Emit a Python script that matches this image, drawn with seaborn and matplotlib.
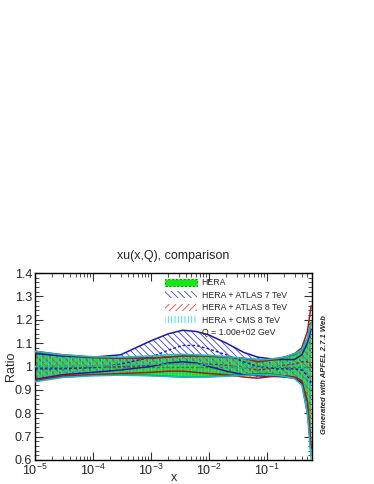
import numpy as np
import pandas as pd
import matplotlib
matplotlib.use("Agg")
import matplotlib.pyplot as plt
import seaborn as sns
from matplotlib.patches import Patch
from matplotlib.lines import Line2D
from matplotlib.ticker import MultipleLocator, LogLocator, NullFormatter

sns.set_theme(style="ticks")
plt.rcParams['font.family'] = ['Liberation Sans', 'DejaVu Sans']
plt.rcParams['hatch.linewidth'] = 0.6

x = [1e-5, 3e-5, 1e-4, 3e-4, 1e-3, 2e-3, 3.5e-3, 6e-3, 1e-2, 2e-2, 4e-2, 7e-2,
     0.1, 0.15, 0.2, 0.3, 0.4, 0.5, 0.58]

hera_c  = [1.0] * 19
hera_up = [1.06, 1.045, 1.037, 1.035, 1.038, 1.042, 1.045, 1.045, 1.043, 1.04, 1.035, 1.03,
           1.03, 1.035, 1.04, 1.05, 1.07, 1.12, 1.19]
hera_lo = [0.94, 0.955, 0.963, 0.965, 0.962, 0.958, 0.955, 0.955, 0.957, 0.96, 0.965, 0.97,
           0.97, 0.965, 0.96, 0.95, 0.93, 0.85, 0.62]

atl7_c  = [0.99, 0.99, 0.995, 1.01, 1.04, 1.07, 1.09, 1.09, 1.075, 1.05, 1.02, 1.0,
           0.995, 0.99, 0.99, 0.99, 0.985, 0.96, 0.93]
atl7_up = [1.055, 1.045, 1.04, 1.05, 1.11, 1.14, 1.155, 1.15, 1.135, 1.1, 1.06, 1.04,
           1.035, 1.03, 1.03, 1.03, 1.05, 1.1, 1.16]
atl7_lo = [0.945, 0.965, 0.975, 0.985, 1.0, 1.015, 1.02, 1.015, 1.0, 0.98, 0.965, 0.96,
           0.958, 0.957, 0.955, 0.95, 0.93, 0.8, 0.65]

atl8_c  = [1.0, 1.0, 1.0, 1.0, 1.005, 1.01, 1.01, 1.01, 1.01, 1.005, 0.995, 0.985,
           0.99, 1.0, 1.005, 1.01, 1.02, 1.02, 1.0]
atl8_up = [1.065, 1.05, 1.04, 1.035, 1.035, 1.04, 1.045, 1.045, 1.045, 1.04, 1.035, 1.02,
           1.025, 1.03, 1.04, 1.055, 1.08, 1.15, 1.26]
atl8_lo = [0.94, 0.96, 0.965, 0.97, 0.975, 0.98, 0.98, 0.975, 0.97, 0.965, 0.955, 0.95,
           0.955, 0.96, 0.96, 0.955, 0.94, 0.85, 0.66]

cms8_c  = [1.0, 1.0, 1.0, 1.005, 1.01, 1.01, 1.01, 1.01, 1.005, 1.0, 0.995, 0.995,
           0.995, 1.0, 1.0, 1.005, 1.0, 0.98, 0.9]
cms8_up = [1.065, 1.05, 1.042, 1.04, 1.045, 1.05, 1.052, 1.05, 1.048, 1.042, 1.035, 1.03,
           1.03, 1.035, 1.04, 1.055, 1.07, 1.12, 1.18]
cms8_lo = [0.935, 0.953, 0.96, 0.963, 0.96, 0.957, 0.955, 0.955, 0.955, 0.958, 0.962, 0.965,
           0.965, 0.962, 0.958, 0.948, 0.92, 0.8, 0.6]

labels = ["HERA", "HERA + ATLAS 7 TeV", "HERA + ATLAS 8 TeV", "HERA + CMS 8 TeV"]
y_ticks = [0.6, 0.7, 0.8, 0.9, 1.0, 1.1, 1.2, 1.3, 1.4]
y_tick_labels = ["0.6", "0.7", "0.8", "0.9", "1", "1.1", "1.2", "1.3", "1.4"]

sets = [
    dict(c=hera_c, up=hera_up, lo=hera_lo, fill="#19e619", line="#0f9a0f", hatch=None, hc=None),
    dict(c=atl7_c, up=atl7_up, lo=atl7_lo, fill="none", line="#1a1aa8", hatch="\\\\\\\\\\", hc="#4040ff"),
    dict(c=atl8_c, up=atl8_up, lo=atl8_lo, fill="none", line="#a81a1a", hatch="/////", hc="#ff4040"),
    dict(c=cms8_c, up=cms8_up, lo=cms8_lo, fill="none", line="#20b8c8", hatch="|||||", hc="#30d8e8"),
]

fig = plt.figure(figsize=(3.74, 4.84), dpi=100)
ax = fig.add_axes([35/374, 24/484, 277/374, 187/484])

for s in sets:
    if s["hatch"] is None:
        ax.fill_between(x, s["lo"], s["up"], facecolor=s["fill"], edgecolor="none", zorder=1)
    else:
        ax.fill_between(x, s["lo"], s["up"], facecolor="none", edgecolor=s["hc"],
                        hatch=s["hatch"], linewidth=0, zorder=2)

for s in sets:
    sns.lineplot(x=x, y=s["up"], ax=ax, color=s["line"], linewidth=1.1, zorder=3)
    sns.lineplot(x=x, y=s["lo"], ax=ax, color=s["line"], linewidth=1.1, zorder=3)
    sns.lineplot(x=x, y=s["c"], ax=ax, color=s["line"], linewidth=1.0, zorder=3)
    ax.lines[-1].set_linestyle((0, (2, 1.5)))

ax.set_xscale("log")
ax.set_xlim(1e-5, 0.6)
ax.set_ylim(0.6, 1.4)
ax.yaxis.set_minor_locator(MultipleLocator(0.02))
ax.xaxis.set_major_locator(LogLocator(base=10, numticks=10))
ax.xaxis.set_minor_locator(LogLocator(base=10, subs=np.arange(2, 10), numticks=20))
ax.xaxis.set_minor_formatter(NullFormatter())
ax.set_yticks(y_ticks)
ax.set_yticklabels(y_tick_labels)
ax.tick_params(which="both", direction="in", top=True, right=True, labelsize=9, pad=2,
               color="#333333")
ax.tick_params(which="major", length=6, width=0.8)
ax.tick_params(which="minor", length=3, width=0.6)
for sp in ax.spines.values():
    sp.set_linewidth(1.0)
    sp.set_color("black")

ax.set_xlabel("x", fontsize=9, va="center")
ax.xaxis.set_label_coords(0.5, -0.097)
ax.set_ylabel("Ratio", fontsize=9, va="center")
ax.yaxis.set_label_coords(-0.087, 0.5)
ax.set_title("xu(x,Q), comparison", fontsize=9, pad=10)

handles = [
    Patch(facecolor="#19e619", edgecolor="#0f9a0f", linestyle=(0, (2, 1.5)), linewidth=0.8),
    Patch(facecolor="white", edgecolor="#4040ff", hatch="\\\\\\\\\\", linewidth=0),
    Patch(facecolor="white", edgecolor="#ff4040", hatch="/////", linewidth=0),
    Patch(facecolor="white", edgecolor="#30d8e8", hatch="|||||", linewidth=0),
    Line2D([], [], color="none"),
]
leg = ax.legend(handles, labels + ["Q = 1.00e+02 GeV"], loc="upper left",
                bbox_to_anchor=(0.458, 0.99), frameon=False, fontsize=6.3,
                handlelength=3.6, handleheight=0.9, labelspacing=0.4, handletextpad=0.55,
                borderaxespad=0)

fig.text(325/374, 1 - 375/484, "Generated with APFEL 2.7.1 Web", rotation=90,
         fontsize=5.5, fontweight="bold", fontstyle="italic", ha="center", va="center")

fig.savefig("out.png", dpi=100)
